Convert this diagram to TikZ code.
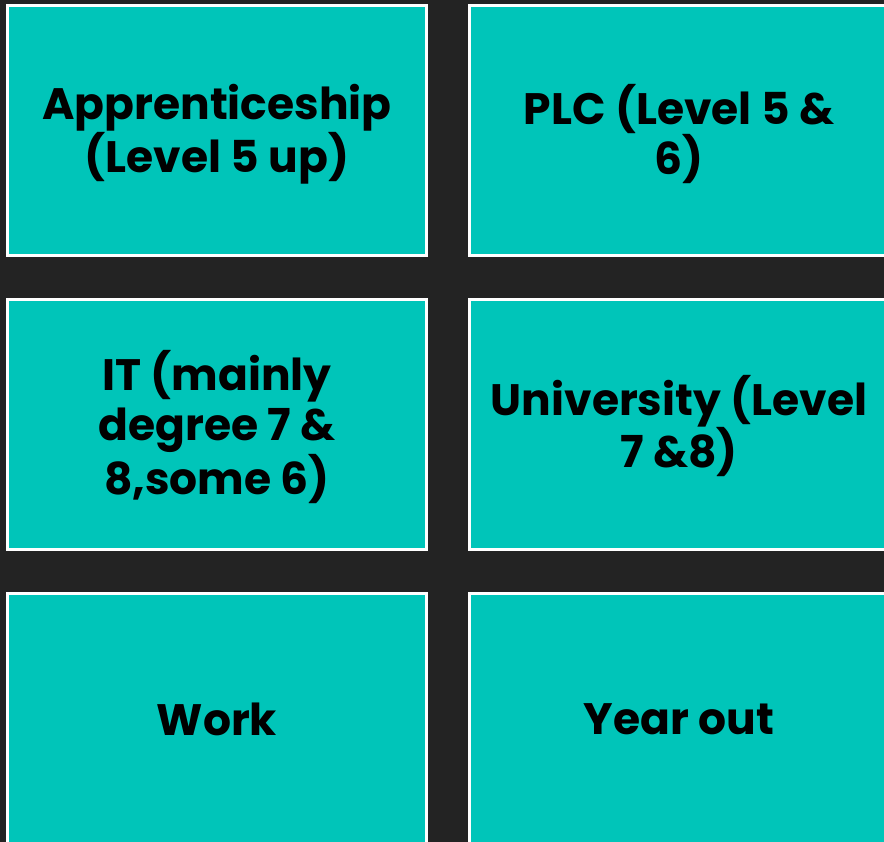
\documentclass[tikz,border=0pt]{standalone}
\usepackage{fontspec}
\setmainfont{Poppins}
\definecolor{bgdark}{HTML}{232323}
\definecolor{tealbox}{HTML}{00C5B9}
\tikzset{
  tile/.style={draw=white, line width=3pt, fill=tealbox},
  tiletext/.style={align=center, text=black, font=\bfseries\fontsize{44}{50}\selectfont, inner sep=0pt}
}
\begin{document}
\begin{tikzpicture}[x=1pt,y=-1pt]
\useasboundingbox (0,0) rectangle (884,842);
\clip (0,0) rectangle (884,842);
\fill[bgdark] (0,0) rectangle (884,842);
% row 1
\draw[tile] (7.5,5.5) rectangle (426.5,255.5);
\draw[tile] (469.5,5.5) rectangle (890,255.5);
% row 2
\draw[tile] (7.5,299.5) rectangle (426.5,549.5);
\draw[tile] (469.5,299.5) rectangle (890,549.5);
% row 3
\draw[tile] (7.5,593.5) rectangle (426.5,850);
\draw[tile] (469.5,593.5) rectangle (890,850);
% texts
\node[tiletext] (t1) at (217,134) {Apprenticeship\\(Level 5 up)};
\node[tiletext] (t2) at (679,134) {PLC (Level 5 \&\\6)};
\node[tiletext] (t3) at (217,427) {IT (mainly\\degree 7 \&\\8,some 6)};
\node[tiletext] (t4) at (679,426) {University (Level\\7 \&8)};
\node[tiletext] (t5) at (217,719) {Work};
\node[tiletext] (t6) at (679,719) {Year out};
\end{tikzpicture}
\end{document}
